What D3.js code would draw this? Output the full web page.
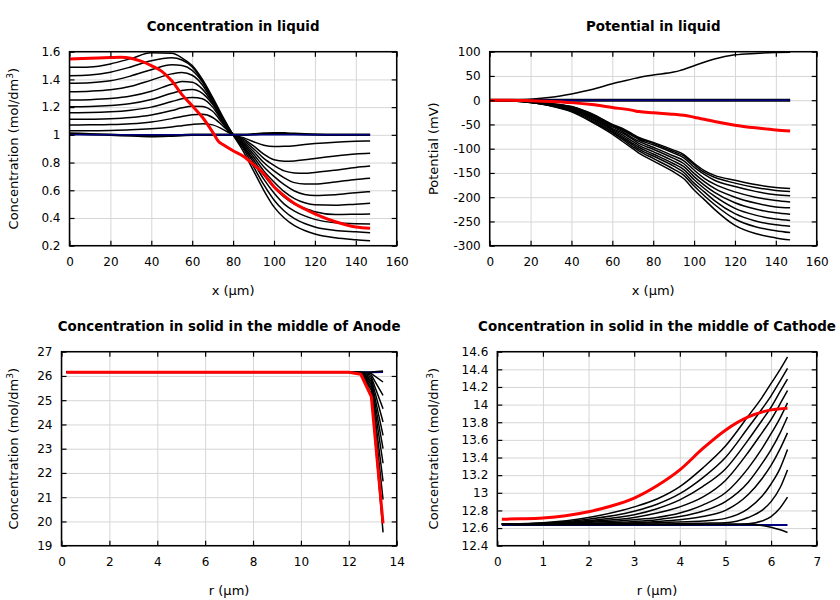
<!DOCTYPE html>
<html><head><meta charset="utf-8">
<script src="https://cdn.jsdelivr.net/npm/d3@7"></script>
<style>body{margin:0;background:#fff}svg{display:block}</style>
</head><body><svg id="c" width="840" height="600"></svg>
<script>
// ---------- Panel 1: Concentration in liquid ----------
const liqX = [0,10,20,30,40,50,55,60,65,70,75,80,85,90,95,100,105,110,115,120,130,140,147];
const liqCurves = [
 [1.03,1.03,1.032,1.036,1.044,1.057,1.066,1.075,1.08,1.072,1.04,1.0,0.98,0.95,0.925,0.915,0.917,0.922,0.93,0.937,0.947,0.953,0.956],
 [1.071,1.072,1.074,1.08,1.093,1.117,1.132,1.145,1.148,1.125,1.065,1.0,0.97,0.92,0.86,0.82,0.81,0.812,0.82,0.83,0.848,0.862,0.867],
 [1.112,1.113,1.116,1.125,1.143,1.175,1.195,1.207,1.205,1.17,1.08,1.0,0.96,0.9,0.83,0.78,0.74,0.725,0.722,0.728,0.745,0.765,0.775],
 [1.16,1.161,1.166,1.178,1.2,1.24,1.26,1.27,1.26,1.2,1.09,1.0,0.95,0.88,0.8,0.74,0.69,0.655,0.645,0.645,0.66,0.678,0.687],
 [1.203,1.205,1.212,1.226,1.255,1.3,1.32,1.328,1.3,1.22,1.1,1.0,0.94,0.86,0.77,0.7,0.64,0.595,0.57,0.562,0.568,0.582,0.59],
 [1.251,1.254,1.262,1.28,1.315,1.365,1.385,1.38,1.33,1.23,1.105,1.0,0.93,0.84,0.74,0.66,0.59,0.54,0.51,0.495,0.492,0.5,0.506],
 [1.311,1.315,1.325,1.35,1.395,1.44,1.45,1.43,1.36,1.24,1.11,1.0,0.92,0.82,0.71,0.62,0.55,0.5,0.47,0.445,0.425,0.427,0.429],
 [1.372,1.376,1.39,1.425,1.47,1.505,1.5,1.465,1.38,1.25,1.115,1.0,0.91,0.8,0.68,0.58,0.5,0.45,0.415,0.39,0.365,0.358,0.357],
 [1.427,1.432,1.452,1.49,1.535,1.556,1.54,1.49,1.39,1.26,1.12,1.0,0.9,0.77,0.64,0.53,0.45,0.395,0.36,0.335,0.31,0.3,0.294],
 [1.487,1.49,1.512,1.55,1.592,1.588,1.555,1.5,1.4,1.27,1.13,1.0,0.88,0.74,0.6,0.48,0.4,0.345,0.31,0.285,0.257,0.243,0.236]
];
const liqWiggle = [1.01,1.005,1.0,0.995,0.99,0.994,0.997,1.0,1.0,1.0,1.0,1.0,1.0,1.004,1.009,1.012,1.011,1.007,1.004,1.002,1.0,1.0,1.0];
const liqFlatX = [0,147];
const liqFlat = [1,1];
const liqRedX = [0,10,20,25,30,35,40,45,50,55,60,65,70,73,75,80,85,90,95,100,105,110,115,120,130,140,147];
const liqRed = [1.547,1.552,1.558,1.56,1.553,1.532,1.5,1.46,1.39,1.29,1.21,1.127,1.02,0.95,0.93,0.885,0.845,0.785,0.72,0.625,0.56,0.505,0.465,0.43,0.373,0.335,0.326];
const liqXTicks = [0,20,40,60,80,100,120,140,160];
const liqYTicks = [0.2,0.4,0.6,0.8,1,1.2,1.4,1.6];

// ---------- Panel 2: Potential in liquid ----------
const potX = [0,10,20,30,40,50,60,65,70,73,80,90,95,100,105,110,120,130,140,147];
const potCurves = [
 [0,0,-3,-7,-13,-28,-50,-58,-70,-77,-87,-103,-112,-130,-145,-155,-165,-174,-180,-182],
 [0,0,-3.1,-7.3,-13.7,-29,-51,-60,-72,-79,-89,-106,-115,-133,-149,-159,-171,-180,-186,-188],
 [0,0,-3.3,-7.7,-14.5,-30.5,-53,-62,-74,-81.5,-92,-109,-119,-138,-153,-165,-178,-188,-195,-197],
 [0,-0.3,-3.5,-8.3,-16,-32,-55,-65,-78,-85,-97,-115,-125,-144,-161,-173,-189,-200,-207,-210],
 [0,-0.4,-3.8,-8.9,-17,-34,-58,-68,-81,-89,-101,-120,-131,-151,-168,-182,-200,-212,-220,-222],
 [0,-0.5,-4,-9.5,-18.5,-36,-60,-71.5,-85,-93,-106,-125.5,-137,-157.5,-175,-190,-211.5,-224.5,-232,-235],
 [0,-0.6,-4.2,-10,-20,-38,-62,-75,-89,-97,-111,-131,-143,-164,-182,-198,-223,-237,-245,-248],
 [0,-0.7,-4.5,-10.7,-21,-40,-65,-78,-92,-101,-115,-136,-149,-171,-189,-207,-234,-249,-257,-260],
 [0,-0.9,-4.7,-11.3,-22.5,-42.5,-67,-81,-96,-104.5,-120,-142,-155,-177,-197,-215,-245,-261,-269,-273],
 [0,-1,-5,-12,-24,-45,-70,-85,-100,-109,-125,-148,-162,-185,-205,-225,-258,-275,-284,-288]
];
const potUpX = [0,10,20,30,40,50,60,70,73,80,90,93,100,110,120,130,140,147];
const potUp = [0,0.5,2,6,13,22,34,44,47,52,58,61,71,85,93.5,96.5,98.2,98.8];
const potFlatX = [0,147];
const potFlat = [0,0];
const potRedX = [0,10,20,30,40,50,60,70,73,80,90,95,100,110,120,130,140,147];
const potRed = [0,0,-1,-2.5,-5,-9,-15,-21,-23.5,-26,-29,-31,-35,-44,-51.5,-57,-61.5,-63.5];
const potXTicks = [0,20,40,60,80,100,120,140,160];
const potYTicks = [-300,-250,-200,-150,-100,-50,0,50,100];

// ---------- Panel 3: Solid, Anode ----------
const anR = [0.2,12.0,12.5,12.94,13.43];
const anCurves = [
 [26.15,26.15,26.15,26.1,25.75],
 [26.15,26.15,26.14,26.03,25.2],
 [26.15,26.15,26.14,25.95,24.65],
 [26.15,26.15,26.13,25.88,24.1],
 [26.15,26.15,26.13,25.8,23.55],
 [26.15,26.15,26.12,25.72,23.0],
 [26.15,26.15,26.12,25.64,22.4],
 [26.15,26.15,26.11,25.53,21.65],
 [26.15,26.15,26.1,25.42,20.9],
 [26.15,26.15,26.09,25.25,19.55]
];
const anTop = [26.15,26.15,26.15,26.16,26.2];
const anFlat = [26.15,26.15,26.15,26.15,26.16];
const anRed = [26.15,26.15,26.07,25.15,19.92];
const anXTicks = [0,2,4,6,8,10,12,14];
const anYTicks = [19,20,21,22,23,24,25,26,27];

// ---------- Panel 4: Solid, Cathode ----------
const caR = [0.1,1,2,3,3.5,4,4.5,5,5.5,5.8,6,6.2,6.36];
const caCurves = [
 [12.645,12.66,12.72,12.84,12.93,13.07,13.28,13.53,13.87,14.08,14.24,14.4,14.54],
 [12.645,12.655,12.7,12.79,12.87,12.99,13.17,13.4,13.74,13.95,14.1,14.27,14.41],
 [12.645,12.65,12.685,12.75,12.82,12.92,13.07,13.27,13.6,13.82,13.97,14.15,14.29],
 [12.645,12.648,12.675,12.72,12.77,12.84,12.95,13.14,13.46,13.68,13.83,14.01,14.16],
 [12.645,12.645,12.665,12.695,12.72,12.77,12.86,13.0,13.28,13.5,13.67,13.85,14.02],
 [12.645,12.643,12.655,12.675,12.695,12.73,12.79,12.9,13.12,13.33,13.49,13.68,13.86],
 [12.645,12.642,12.65,12.66,12.675,12.695,12.73,12.8,12.98,13.16,13.31,13.5,13.68],
 [12.645,12.64,12.645,12.652,12.66,12.67,12.68,12.71,12.82,12.96,13.1,13.28,13.49],
 [12.645,12.64,12.64,12.643,12.646,12.65,12.655,12.66,12.72,12.8,12.9,13.06,13.26],
 [12.645,12.64,12.64,12.64,12.64,12.64,12.643,12.645,12.65,12.68,12.73,12.83,12.95]
];
const caDown = [12.64,12.64,12.64,12.64,12.64,12.64,12.64,12.64,12.64,12.63,12.61,12.58,12.55];
const caFlatR = [0.1,6.36];
const caFlat = [12.635,12.635];
const caRedR = [0.1,0.5,1,1.5,2,2.5,3,3.5,4,4.5,5,5.5,6,6.36];
const caRed = [12.70,12.705,12.715,12.74,12.785,12.85,12.94,13.08,13.26,13.5,13.71,13.86,13.94,13.96];
const caXTicks = [0,1,2,3,4,5,6,7];
const caYTicks = [12.4,12.6,12.8,13,13.2,13.4,13.6,13.8,14,14.2,14.4,14.6];

// ---------- drawing ----------
const svg = d3.select("#c");
svg.append("rect").attr("width",840).attr("height",600).attr("fill","#fff");
const FONT = "DejaVu Sans, sans-serif";
const fmt = d => String(+d.toFixed(1));

function zip(xs, ys){ return xs.map((x,i)=>[x,ys[i]]); }

function panel(o){
  const x = d3.scaleLinear().domain(o.xd).range([o.x0,o.x1]);
  const y = d3.scaleLinear().domain(o.yd).range([o.y1,o.y0]);
  const g = svg.append("g");
  g.append("g").call(d3.axisBottom(x).tickValues(o.xt).tickSize(-(o.y1-o.y0)).tickFormat(""))
    .attr("transform",`translate(0,${o.y1})`)
    .call(s=>{s.select(".domain").remove(); s.selectAll("line").attr("stroke","#d6d6d6").attr("stroke-width",1);});
  g.append("g").call(d3.axisLeft(y).tickValues(o.yt).tickSize(-(o.x1-o.x0)).tickFormat(""))
    .attr("transform",`translate(${o.x0},0)`)
    .call(s=>{s.select(".domain").remove(); s.selectAll("line").attr("stroke","#d6d6d6").attr("stroke-width",1);});
  const line = d3.line().x(d=>x(d[0])).y(d=>y(d[1])).curve(o.curve || d3.curveLinear);
  const clip = "clip"+o.id;
  svg.append("clipPath").attr("id",clip).append("rect")
     .attr("x",o.x0).attr("y",o.y0).attr("width",o.x1-o.x0).attr("height",o.y1-o.y0);
  const lg = g.append("g").attr("clip-path",`url(#${clip})`);
  o.series.forEach(s=>{
    lg.append("path").attr("d",line(s.pts)).attr("fill","none")
      .attr("stroke",s.color).attr("stroke-width",s.w).attr("stroke-linejoin","round");
  });
  const tk = 5;
  g.append("g").attr("transform",`translate(0,${o.y1})`)
    .call(d3.axisBottom(x).tickValues(o.xt).tickSizeInner(-tk).tickSizeOuter(0).tickPadding(12).tickFormat(o.xf||fmt))
    .call(s=>{s.select(".domain").remove(); s.selectAll("line").attr("stroke","#000").attr("stroke-width",1.2);
      s.selectAll("text").attr("font-family",FONT).attr("font-size",12).attr("fill","#000");});
  g.append("g").attr("transform",`translate(0,${o.y0})`)
    .call(d3.axisTop(x).tickValues(o.xt).tickSizeInner(-tk).tickSizeOuter(0).tickFormat(""))
    .call(s=>{s.select(".domain").remove(); s.selectAll("line").attr("stroke","#000").attr("stroke-width",1.2);});
  g.append("g").attr("transform",`translate(${o.x0},0)`)
    .call(d3.axisLeft(y).tickValues(o.yt).tickSizeInner(-tk).tickSizeOuter(0).tickPadding(9).tickFormat(o.yf||fmt))
    .call(s=>{s.select(".domain").remove(); s.selectAll("line").attr("stroke","#000").attr("stroke-width",1.2);
      s.selectAll("text").attr("font-family",FONT).attr("font-size",12).attr("fill","#000");});
  g.append("g").attr("transform",`translate(${o.x1},0)`)
    .call(d3.axisRight(y).tickValues(o.yt).tickSizeInner(-tk).tickSizeOuter(0).tickFormat(""))
    .call(s=>{s.select(".domain").remove(); s.selectAll("line").attr("stroke","#000").attr("stroke-width",1.2);});
  g.append("rect").attr("x",o.x0).attr("y",o.y0).attr("width",o.x1-o.x0).attr("height",o.y1-o.y0)
    .attr("fill","none").attr("stroke","#000").attr("stroke-width",1.5);
  g.append("text").attr("x",(o.x0+o.x1)/2).attr("y",o.y0-21).attr("text-anchor","middle")
    .attr("font-family",FONT).attr("font-size",13.4).attr("font-weight","bold").text(o.title);
  g.append("text").attr("x",(o.x0+o.x1)/2).attr("y",o.y1+49).attr("text-anchor","middle")
    .attr("font-family",FONT).attr("font-size",13).text(o.xlab);
  const yl = g.append("text").attr("transform",`translate(${o.ylx},${(o.y0+o.y1)/2}) rotate(-90)`)
    .attr("text-anchor","middle").attr("font-family",FONT).attr("font-size",13);
  if (o.sup){
    yl.append("tspan").text(o.ylab);
    yl.append("tspan").attr("baseline-shift","super").attr("font-size",9).text("3");
    yl.append("tspan").text(")");
  } else yl.text(o.ylab);
}

function blackSeries(xs, arrs){ return arrs.map(a=>({pts:zip(xs,a),color:"#000",w:1.5})); }

panel({id:1,x0:69.5,x1:396.7,y0:51.7,y1:245.7,xd:[0,160],yd:[0.2,1.6],xt:liqXTicks,yt:liqYTicks,
  curve:d3.curveMonotoneX,
  title:"Concentration in liquid",xlab:"x (\u00b5m)",ylab:"Concentration (mol/dm",sup:true,ylx:18,
  series:[...blackSeries(liqX,liqCurves),
    {pts:zip(liqX,liqWiggle),color:"#000",w:2.5},
    {pts:zip(liqFlatX,liqFlat),color:"#000080",w:1.5},
    {pts:zip(liqRedX,liqRed),color:"#ff0000",w:3}]});

panel({id:2,x0:489.7,x1:816.7,y0:51.7,y1:245.7,xd:[0,160],yd:[-300,100],xt:potXTicks,yt:potYTicks,
  curve:d3.curveMonotoneX,
  title:"Potential in liquid",xlab:"x (\u00b5m)",ylab:"Potential (mV)",ylx:438,
  series:[...blackSeries(potX,potCurves),
    {pts:zip(potUpX,potUp),color:"#000",w:1.5},
    {pts:zip(potFlatX,potFlat),color:"#000",w:3},
    {pts:zip(potFlatX,potFlat),color:"#000080",w:1.5},
    {pts:zip(potRedX,potRed),color:"#ff0000",w:3}]});

panel({id:3,x0:61.5,x1:396.7,y0:351.7,y1:545.7,xd:[0,14],yd:[19,27],xt:anXTicks,yt:anYTicks,
  title:"Concentration in solid in the middle of Anode",xlab:"r (\u00b5m)",ylab:"Concentration (mol/dm",sup:true,ylx:18,
  series:[{pts:zip(anR,anFlat),color:"#000080",w:2},
    ...blackSeries(anR,anCurves),
    {pts:zip(anR,anTop),color:"#000",w:1.5},
    {pts:zip(anR,anRed),color:"#ff0000",w:3}]});

panel({id:4,x0:497.3,x1:816.7,y0:351.7,y1:545.7,xd:[0,7],yd:[12.4,14.6],xt:caXTicks,yt:caYTicks,
  curve:d3.curveMonotoneX,
  title:"Concentration in solid in the middle of Cathode",xlab:"r (\u00b5m)",ylab:"Concentration (mol/dm",sup:true,ylx:438,
  series:[{pts:zip(caFlatR,caFlat),color:"#000080",w:2},
    ...blackSeries(caR,caCurves),
    {pts:zip(caR,caDown),color:"#000",w:1.5},
    {pts:zip(caRedR,caRed),color:"#ff0000",w:3}]});
</script></body></html>
